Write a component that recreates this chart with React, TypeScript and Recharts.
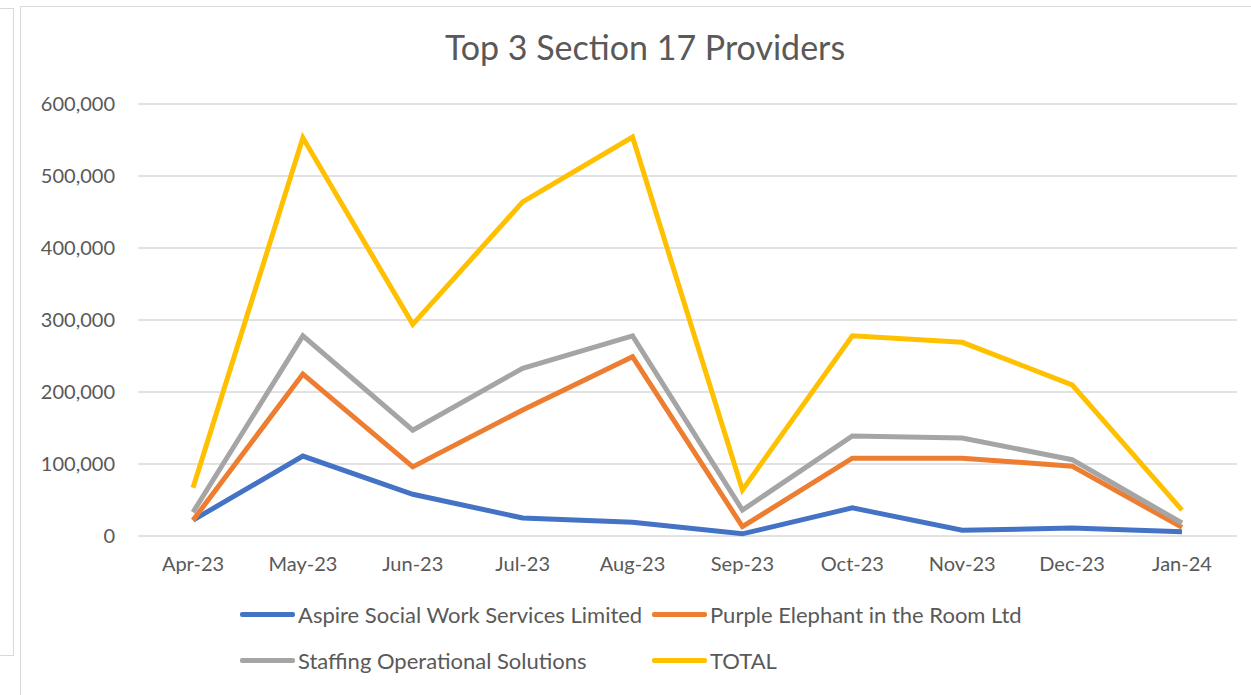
import { LineChart, Line, XAxis, YAxis, CartesianGrid } from "recharts";

const months = ["Apr-23", "May-23", "Jun-23", "Jul-23", "Aug-23", "Sep-23", "Oct-23", "Nov-23", "Dec-23", "Jan-24"];

const aspire = [22000, 111000, 58000, 25000, 19000, 3000, 39000, 8000, 11000, 6000];
const purple = [22000, 225000, 96000, 175000, 249000, 13000, 108000, 108000, 97000, 12000];
const staffing = [33000, 278000, 147000, 233000, 278000, 36000, 139000, 136000, 106000, 18000];
const total = [67000, 553000, 294000, 464000, 554000, 64000, 278000, 269000, 210000, 36000];

const yTicks = [0, 100000, 200000, 300000, 400000, 500000, 600000];

const SERIES = [
  { key: "aspire", name: "Aspire Social Work Services Limited", color: "#4472C4" },
  { key: "purple", name: "Purple Elephant in the Room Ltd", color: "#ED7D31" },
  { key: "staffing", name: "Staffing Operational Solutions", color: "#A5A5A5" },
  { key: "total", name: "TOTAL", color: "#FFC000" },
];

const data = months.map((m, i) => ({
  month: m,
  aspire: aspire[i],
  purple: purple[i],
  staffing: staffing[i],
  total: total[i],
}));

const FONT = "Lato, 'Open Sans', sans-serif";
const TEXT = "#595959";

function LegendItem({ name, color, x, y }: { name: string; color: string; x: number; y: number }) {
  return (
    <div style={{ position: "absolute", left: x, top: y, display: "flex", alignItems: "center", whiteSpace: "nowrap" }}>
      <span style={{ display: "inline-block", width: 55, height: 5, background: color, borderRadius: 2, marginRight: 3 }} />
      <span style={{ fontSize: 22, color: TEXT, fontFamily: FONT }}>{name}</span>
    </div>
  );
}

export default function App() {
  return (
    <div style={{ position: "absolute", left: 0, top: 0, width: 1251, height: 695, background: "#fff", overflow: "hidden", fontFamily: FONT }}>
      {/* neighbouring panel edge */}
      <div style={{ position: "absolute", left: -2, top: 8, width: 14, height: 646, border: "1.5px solid #d9d9d9" }} />
      {/* chart frame */}
      <div style={{ position: "absolute", left: 20, top: 6, width: 1260, height: 720, border: "1.5px solid #d9d9d9" }} />

      <div style={{ position: "absolute", left: 345, top: 26, width: 600, textAlign: "center", fontSize: 34, color: TEXT }}>
        Top 3 Section 17 Providers
      </div>

      <div style={{ position: "absolute", left: 0, top: 0 }}>
        <LineChart width={1251} height={695} data={data} margin={{ top: 104, right: 14, bottom: 129, left: 0 }}>
          <CartesianGrid vertical={false} stroke="#d9d9d9" strokeWidth={1.5} />
          <XAxis
            dataKey="month"
            axisLine={false}
            tickLine={false}
            tickSize={0}
            tickMargin={21}
            height={30}
            interval={0}
            padding={{ left: 55, right: 55 }}
            tick={{ fontSize: 20, fill: TEXT, fontFamily: FONT }}
          />
          <YAxis
            domain={[0, 600000]}
            ticks={yTicks}
            axisLine={false}
            tickLine={false}
            tickSize={0}
            tickMargin={23}
            width={138}
            tickFormatter={(v: number) => v.toLocaleString("en-US")}
            tick={{ fontSize: 20, fill: TEXT, fontFamily: FONT }}
          />
          {SERIES.map((s) => (
            <Line
              key={s.key}
              type="linear"
              dataKey={s.key}
              name={s.name}
              stroke={s.color}
              strokeWidth={5}
              dot={false}
              isAnimationActive={false}
            />
          ))}
        </LineChart>
      </div>

      <LegendItem name={SERIES[0].name} color={SERIES[0].color} x={240} y={601} />
      <LegendItem name={SERIES[1].name} color={SERIES[1].color} x={652} y={601} />
      <LegendItem name={SERIES[2].name} color={SERIES[2].color} x={240} y={647} />
      <LegendItem name={SERIES[3].name} color={SERIES[3].color} x={652} y={647} />
    </div>
  );
}
